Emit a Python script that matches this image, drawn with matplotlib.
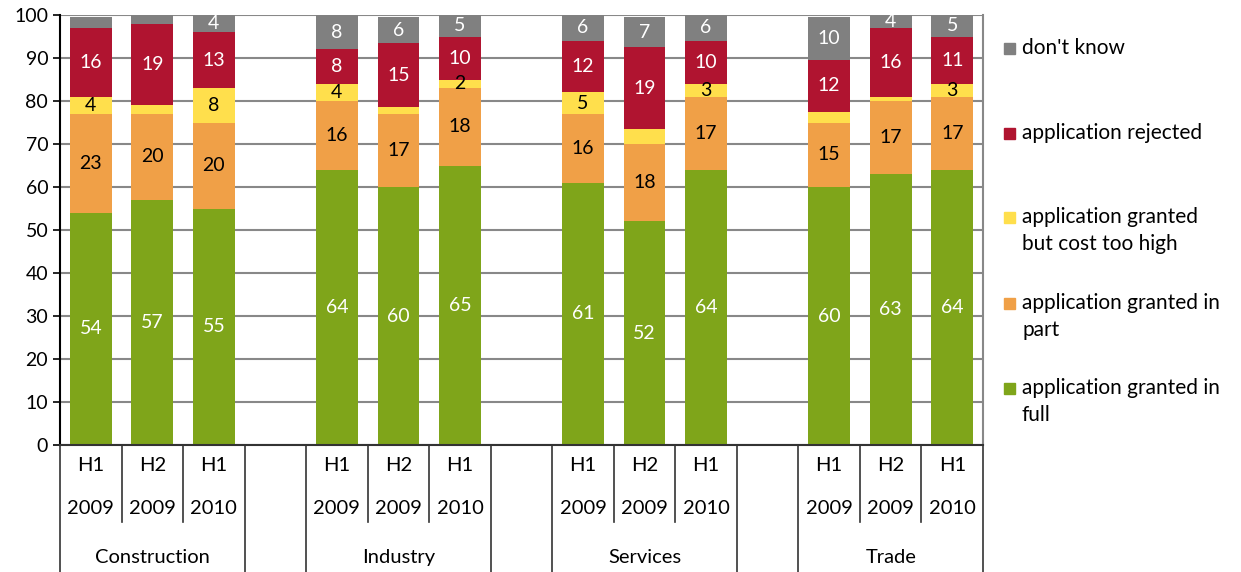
import matplotlib
matplotlib.use('Agg')
import matplotlib.pyplot as plt
from matplotlib.patches import Rectangle

plt.rcParams['font.family'] = ['Lato', 'DejaVu Sans']

sectors = ['Construction', 'Industry', 'Services', 'Trade']
halves = ['H1', 'H2', 'H1']
years = ['2009', '2009', '2010']

# values per bar: Construction x3, Industry x3, Services x3, Trade x3
granted_full = [54, 57, 55, 64, 60, 65, 61, 52, 64, 60, 63, 64]
granted_part = [23, 20, 20, 16, 17, 18, 16, 18, 17, 15, 17, 17]
cost_too_high = [4, 2, 8, 4, 1.5, 2, 5, 3.5, 3, 2.5, 1, 3]
rejected = [16, 19, 13, 8, 15, 10, 12, 19, 10, 12, 16, 11]
dont_know = [2.5, 2, 4, 8, 6, 5, 6, 7, 6, 10, 4, 5]

series = [granted_full, granted_part, cost_too_high, rejected, dont_know]
names = [['application granted in', 'full'], ['application granted in', 'part'],
         ['application granted', 'but cost too high'], ['application rejected'], ["don't know"]]
colors = ['#7FA51A', '#F0A047', '#FFDF4C', '#B01430', '#808080']
txt_colors = ['white', 'black', 'black', 'white', 'white']
# segments drawn without a value label (series index, bar index)
no_label = [(4, 0), (4, 1), (2, 1), (2, 4), (2, 7), (2, 9), (2, 10)]

W, H = 1241, 572
fig = plt.figure(figsize=(W / 100, H / 100), dpi=100)
ax = fig.add_axes([60 / W, 1 - 445 / H, (983 - 60) / W, (445 - 15) / H])

# slot positions: 3 bars per sector, one empty slot between sectors
xpos = []
for g in range(len(sectors)):
    for k in range(3):
        xpos.append(g * 4 + k)

bottom = [0] * len(xpos)
for si, vals in enumerate(series):
    ax.bar(xpos, vals, 0.68, bottom=bottom, color=colors[si], zorder=3)
    for i, v in enumerate(vals):
        if (si, i) not in no_label:
            top = min(bottom[i] + v, 100)
            ax.text(xpos[i], (bottom[i] + top) / 2, f"{v:.0f}", ha='center', va='center',
                    color=txt_colors[si], fontsize=14, zorder=4)
        bottom[i] += v

ax.set_ylim(0, 100)
ax.set_xlim(-0.5, 14.5)
ax.set_yticks(range(0, 101, 10))
ax.tick_params(axis='y', labelsize=14, length=5, direction='out', width=1.2)
ax.set_xticks([])
ax.yaxis.grid(True, color='#888888', linewidth=1.5, zorder=0)
for s in ['top', 'bottom']:
    ax.spines[s].set_visible(False)
ax.spines['right'].set_color('#888888')
ax.spines['right'].set_linewidth(1.5)
ax.spines['left'].set_linewidth(1.5)
ax.axhline(0, color='#333333', lw=1.5, zorder=5, clip_on=False)

# category axis below the plot
tr = ax.get_xaxis_transform()
for b in range(16):
    xb = b - 0.5
    long_line = b % 4 == 0 or b % 4 == 3
    y_end = -0.296 if long_line else -0.18
    ax.plot([xb, xb], [0, y_end], color='#333333', lw=1.2, transform=tr, clip_on=False)
for i, x in enumerate(xpos):
    ax.text(x, -0.047, halves[i % 3], transform=tr, ha='center', va='center', fontsize=14.5)
    ax.text(x, -0.147, years[i % 3], transform=tr, ha='center', va='center', fontsize=14.5)
for g, name in enumerate(sectors):
    ax.text(g * 4 + 1, -0.261, name, transform=tr, ha='center', va='center', fontsize=14.5)

# legend drawn at the right
leg_y = [48, 133, 217, 303, 388]
for j, si in enumerate([4, 3, 2, 1, 0]):
    y = leg_y[j]
    fig.add_artist(Rectangle((1004 / W, 1 - (y + 6) / H), 11 / W, 11 / H,
                             transform=fig.transFigure, color=colors[si]))
    for k, line in enumerate(names[si]):
        fig.text(1022 / W, 1 - (y + 27 * k) / H, line, ha='left', va='center',
                 fontsize=15)

fig.savefig('out.png', dpi=100)
